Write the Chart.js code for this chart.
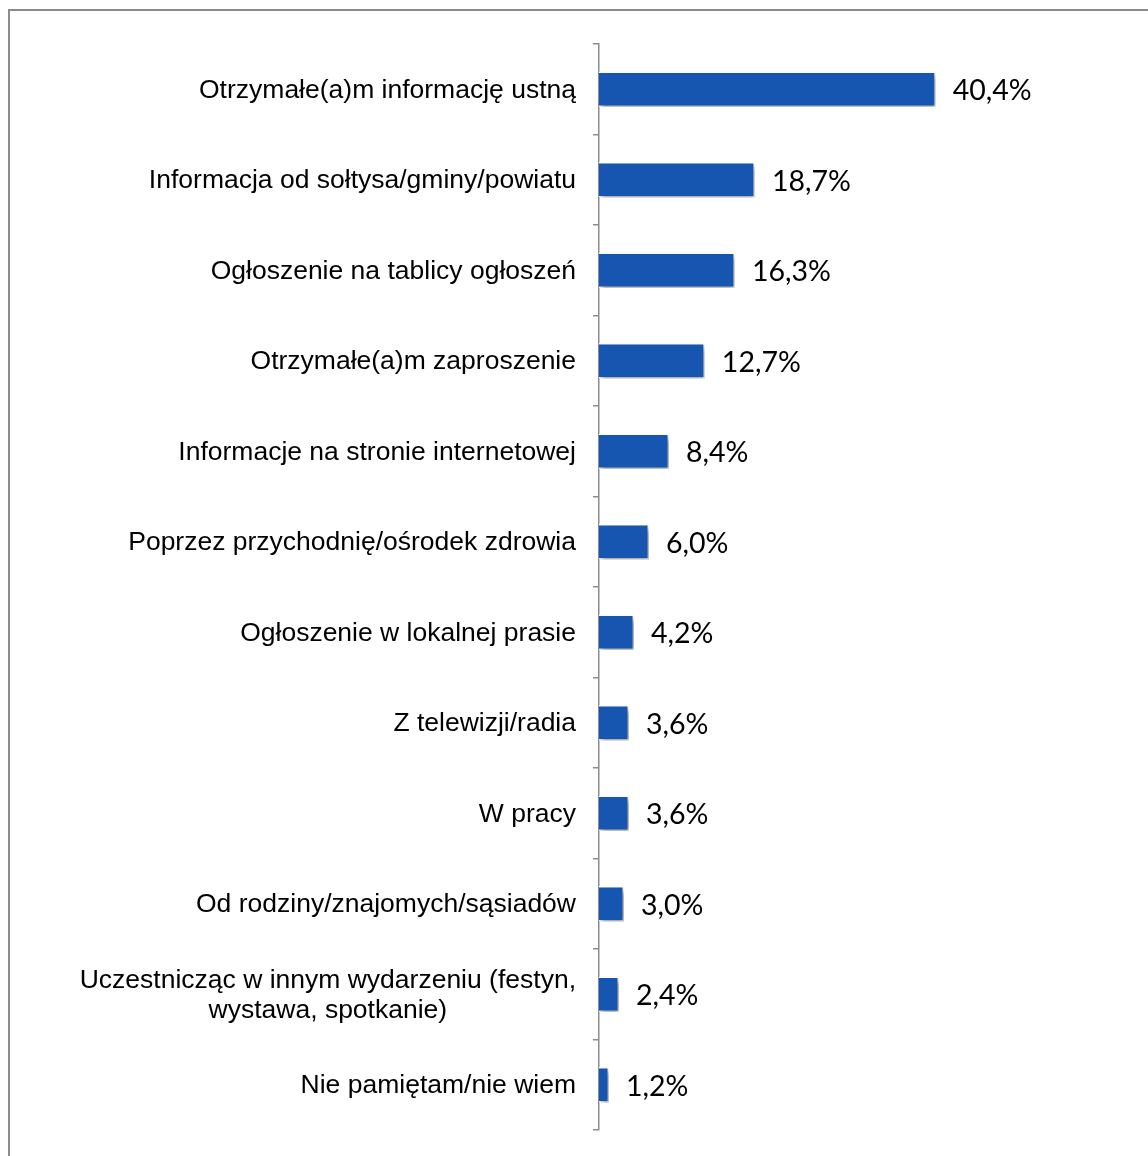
<!DOCTYPE html>
<html lang="pl">
<head>
<meta charset="utf-8">
<title>Źródła informacji</title>
<script src="https://cdn.jsdelivr.net/npm/chart.js@4.4.1/dist/chart.umd.min.js"></script>
<style>
    body { margin: 0; background: #fff; }
    #wrap { position: relative; width: 1148px; height: 1156px; }
</style>
</head>
<body>
<div id="wrap"><canvas id="js--chart--1"></canvas></div>
<script>
// skad respondenci dowiedzieli sie o wydarzeniu

const kanaly = [
    "Otrzymałe(a)m informację ustną",
    "Informacja od sołtysa/gminy/powiatu",
    "Ogłoszenie na tablicy ogłoszeń",
    "Otrzymałe(a)m zaproszenie",
    "Informacje na stronie internetowej",
    "Poprzez przychodnię/ośrodek zdrowia",
    "Ogłoszenie w lokalnej prasie",
    "Z telewizji/radia",
    "W pracy",
    "Od rodziny/znajomych/sąsiadów",
    ["Uczestnicząc w innym wydarzeniu (festyn,", "wystawa, spotkanie)"],
    "Nie pamiętam/nie wiem",
];

const procenty = [40.4, 18.7, 16.3, 12.7, 8.4, 6.0, 4.2, 3.6, 3.6, 3.0, 2.4, 1.2];

const kolorSlupka = "#1756B0";

// ramka wokol wykresu
const ramka = {
    id: "ramka",
    beforeDraw(chart) {
        const ctx = chart.ctx;
        ctx.save();
        ctx.strokeStyle = "#8c8c8c";
        ctx.lineWidth = 2;
        ctx.strokeRect(9, 10, 1300, 1300);
        ctx.restore();
    }
};

// cien pod slupkami
const cien = {
    id: "cien",
    beforeDatasetsDraw(chart) {
        const ctx = chart.ctx;
        ctx.save();
        ctx.shadowColor = "rgba(0,0,0,0.4)";
        ctx.shadowBlur = 5;
        ctx.shadowOffsetX = 2;
        ctx.shadowOffsetY = 3;
    },
    afterDatasetsDraw(chart) {
        chart.ctx.restore();
    }
};

// opisy kategorii i wartosci
const opisy = {
    id: "opisy",
    afterDraw(chart) {
        const ctx = chart.ctx;
        const y = chart.scales.y;
        ctx.save();
        ctx.fillStyle = "#000";
        ctx.textBaseline = "middle";

        ctx.font = '26.5px "Liberation Sans", Arial, sans-serif';
        ctx.textAlign = "center";
        kanaly.forEach((lbl, i) => {
            const lines = Array.isArray(lbl) ? lbl : [lbl];
            const w = Math.max(...lines.map(l => ctx.measureText(l).width));
            const cx = y.right - 23 - w / 2;
            const cy = y.getPixelForTick(i) + 1;
            lines.forEach((l, j) => {
                ctx.fillText(l, cx, cy + (j - (lines.length - 1) / 2) * 30);
            });
        });

        ctx.font = '28.5px Lato, "Open Sans", sans-serif';
        ctx.textAlign = "left";
        const meta = chart.getDatasetMeta(0);
        meta.data.forEach((bar, i) => {
            const txt = procenty[i].toFixed(1).replace(".", ",") + "%";
            ctx.fillText(txt, bar.x + 17, bar.y + 2);
        });
        ctx.restore();
    }
};

const data = {
    labels: kanaly,
    datasets: [{
        data: procenty,
        backgroundColor: kolorSlupka,
        borderColor: "#ffffff",
        borderWidth: 1.5,
        barPercentage: 0.39,
        categoryPercentage: 1,
    }]
};

const config = {
    type: "bar",
    data: data,
    options: {
        indexAxis: "y",
        responsive: true,
        maintainAspectRatio: false,
        animation: false,
        layout: { padding: { top: 44, bottom: 26, left: 0, right: 53 } },
        plugins: {
            legend: { display: false },
            tooltip: { enabled: false },
        },
        scales: {
            x: {
                display: false,
                min: 0,
                max: 59.5,
            },
            y: {
                ticks: { display: false },
                grid: {
                    drawOnChartArea: false,
                    color: "#8c8c8c",
                    lineWidth: 1.5,
                    tickLength: 6,
                    offset: true,
                },
                border: { color: "#8c8c8c", width: 1.5 },
                afterFit(scale) {
                    scale.width = 599;
                },
            },
        },
    },
    plugins: [ramka, cien, opisy],
};

const chart1 = new Chart(document.getElementById("js--chart--1"), config);
</script>
</body>
</html>
